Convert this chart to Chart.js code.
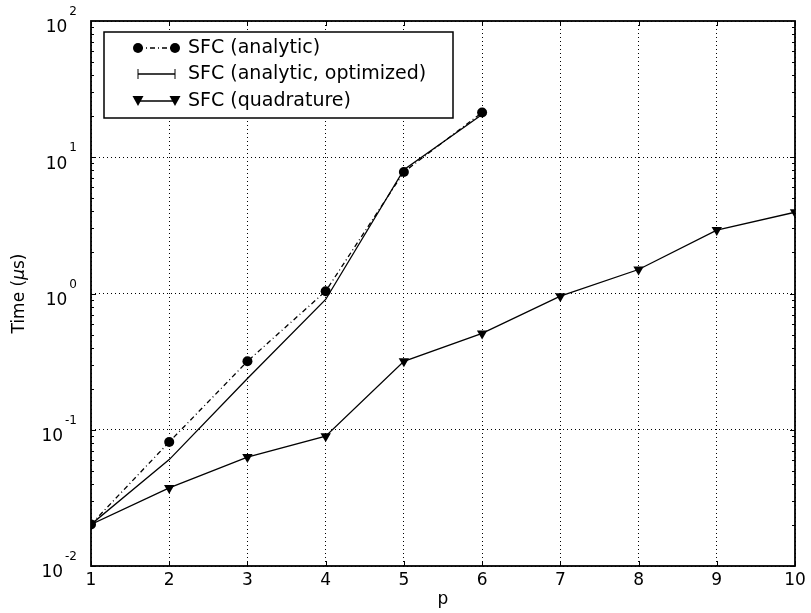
<!DOCTYPE html>
<html>
<head>
<meta charset="utf-8">
<script src="https://cdn.jsdelivr.net/npm/chart.js@4/dist/chart.umd.min.js"></script>
<style>
  html, body { margin: 0; padding: 0; background: #fff; }
</style>
</head>
<body>
<canvas id="chart" width="811" height="613"></canvas>
<script>
// values
const pValues = [1, 2, 3, 4, 5, 6, 7, 8, 9, 10];
const analytic = [0.0202, 0.0813, 0.318, 1.04, 7.8, 21.3];
const optimized = [0.0202, 0.0604, 0.238, 0.904, 8.1, 20.6];
const quadrature = [0.0202, 0.0374, 0.063, 0.0896, 0.318, 0.509, 0.955, 1.50, 2.92, 3.95];
const seriesLabels = ['SFC (analytic)', 'SFC (analytic, optimized)', 'SFC (quadrature)'];
const yMajorTicks = [0.01, 0.1, 1, 10, 100];
const yExponents = ['-2', '-1', '0', '1', '2'];

const FONT = "'DejaVu Sans', sans-serif";

function points(values) {
  return values.map((v, i) => ({ x: pValues[i], y: v }));
}

// frame, inward ticks, y labels with exponents, axis titles, legend
const decorations = {
  id: 'decorations',
  afterDraw(chart) {
    const ctx = chart.ctx;
    const area = chart.chartArea;
    const xs = chart.scales.x;
    const ys = chart.scales.y;
    ctx.save();

    // tick marks
    ctx.strokeStyle = '#000';
    ctx.lineWidth = 1;
    ctx.beginPath();
    xs.ticks.forEach(t => {
      const x = Math.round(xs.getPixelForValue(t.value)) + 0.5;
      ctx.moveTo(x, area.bottom); ctx.lineTo(x, area.bottom - 5);
      ctx.moveTo(x, area.top); ctx.lineTo(x, area.top + 5);
    });
    for (let e = -2; e < 2; e++) {
      for (let m = 1; m <= 9; m++) {
        const y = Math.round(ys.getPixelForValue(m * Math.pow(10, e))) + 0.5;
        const len = m === 1 ? 5 : 3;
        ctx.moveTo(area.left, y); ctx.lineTo(area.left + len, y);
        ctx.moveTo(area.right, y); ctx.lineTo(area.right - len, y);
      }
    }
    ctx.stroke();

    // frame
    ctx.lineWidth = 1.8;
    ctx.strokeRect(area.left, area.top, area.right - area.left, area.bottom - area.top);

    // y tick labels 10^e
    ctx.fillStyle = '#000';
    ctx.textBaseline = 'middle';
    yMajorTicks.forEach((v, i) => {
      const y = ys.getPixelForValue(v);
      const rightX = area.left - 14;
      ctx.font = '12px ' + FONT;
      ctx.textAlign = 'right';
      const w = ctx.measureText(yExponents[i]).width;
      ctx.fillText(yExponents[i], rightX, y - 9);
      ctx.font = '17px ' + FONT;
      ctx.fillText('10', rightX - w - 2, y + 7);
    });

    // axis titles
    ctx.font = '17px ' + FONT;
    ctx.textAlign = 'center';
    ctx.fillText('p', (area.left + area.right) / 2, 600);

    ctx.save();
    ctx.translate(20, (area.top + area.bottom) / 2);
    ctx.rotate(-Math.PI / 2);
    const partA = 'Time (', partB = 'μ', partC = 's)';
    ctx.font = '17px ' + FONT;
    const wA = ctx.measureText(partA).width;
    const wC = ctx.measureText(partC).width;
    ctx.font = 'italic 17px ' + FONT;
    const wB = ctx.measureText(partB).width;
    let x0 = -(wA + wB + wC) / 2;
    ctx.textAlign = 'left';
    ctx.font = '17px ' + FONT;
    ctx.fillText(partA, x0, 0);
    ctx.font = 'italic 17px ' + FONT;
    ctx.fillText(partB, x0 + wA, 0);
    ctx.font = '17px ' + FONT;
    ctx.fillText(partC, x0 + wA + wB, 0);
    ctx.restore();

    // legend
    const bx = area.left + 13, by = area.top + 11, bw = 349, bh = 86;
    ctx.fillStyle = '#fff';
    ctx.fillRect(bx, by, bw, bh);
    ctx.lineWidth = 1.5;
    ctx.strokeStyle = '#000';
    ctx.strokeRect(bx, by, bw, bh);
    const x1 = bx + 34, x2 = bx + 71;
    const rows = [by + 16, by + 42, by + 69];
    chart.data.datasets.forEach((ds, i) => {
      const y = rows[i];
      ctx.strokeStyle = '#000';
      ctx.fillStyle = '#000';
      ctx.lineWidth = ds.borderWidth;
      ctx.setLineDash(ds.borderDash || []);
      ctx.beginPath();
      ctx.moveTo(x1, y); ctx.lineTo(x2, y);
      ctx.stroke();
      ctx.setLineDash([]);
      if (ds.pointStyle === 'circle') {
        [x1, x2].forEach(x => { ctx.beginPath(); ctx.arc(x, y, 5, 0, Math.PI * 2); ctx.fill(); });
      } else if (ds.pointStyle === 'triangle') {
        [x1, x2].forEach(x => {
          ctx.beginPath();
          ctx.moveTo(x - 5.5, y - 5); ctx.lineTo(x + 5.5, y - 5); ctx.lineTo(x, y + 5);
          ctx.closePath(); ctx.fill();
        });
      } else {
        ctx.lineWidth = 1;
        [x1, x2].forEach(x => { ctx.beginPath(); ctx.moveTo(x, y - 5); ctx.lineTo(x, y + 5); ctx.stroke(); });
      }
      ctx.font = '19px ' + FONT;
      ctx.textAlign = 'left';
      ctx.textBaseline = 'middle';
      ctx.fillText(ds.label, bx + 84, y);
    });
    ctx.restore();
  }
};

new Chart(document.getElementById('chart'), {
  type: 'line',
  data: {
    datasets: [
      {
        label: seriesLabels[0],
        data: points(analytic),
        borderColor: '#000',
        backgroundColor: '#000',
        borderWidth: 1.3,
        borderDash: [5, 3, 1, 3],
        pointStyle: 'circle',
        pointRadius: 5,
        pointBorderWidth: 0,
        tension: 0
      },
      {
        label: seriesLabels[1],
        data: points(optimized),
        borderColor: '#000',
        backgroundColor: '#000',
        borderWidth: 1.3,
        pointStyle: 'line',
        pointRadius: 0,
        tension: 0
      },
      {
        label: seriesLabels[2],
        data: points(quadrature),
        borderColor: '#000',
        backgroundColor: '#000',
        borderWidth: 1.3,
        pointStyle: 'triangle',
        pointRotation: 180,
        pointRadius: 6,
        pointBorderWidth: 0,
        tension: 0
      }
    ]
  },
  options: {
    responsive: false,
    animation: false,
    devicePixelRatio: 1,
    layout: { padding: { top: 21, right: 16, left: 0, bottom: 0 } },
    plugins: { legend: { display: false }, tooltip: { enabled: false } },
    scales: {
      x: {
        type: 'linear',
        min: 1,
        max: 10,
        ticks: { stepSize: 1, color: '#000', font: { family: FONT, size: 17 }, padding: 4 },
        grid: { color: '#000', lineWidth: 1, drawTicks: false },
        border: { display: false, dash: [1, 3] },
        afterFit: s => { s.height = 47; }
      },
      y: {
        type: 'logarithmic',
        min: 0.01,
        max: 100,
        ticks: { display: false },
        afterBuildTicks: s => { s.ticks = yMajorTicks.map(v => ({ value: v })); },
        grid: { color: '#000', lineWidth: 1, drawTicks: false },
        border: { display: false, dash: [1, 3] },
        afterFit: s => { s.width = 91; }
      }
    }
  },
  plugins: [decorations]
});
</script>
</body>
</html>
